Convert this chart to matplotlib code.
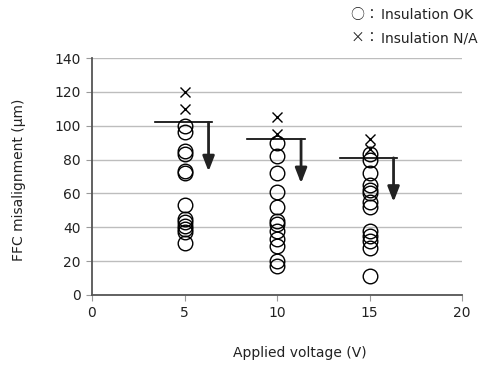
import matplotlib.pyplot as plt

# applied voltage groups
voltages = [5, 10, 15]

# misalignment values (um)
ok_5 = [100, 96, 85, 83, 73, 72, 53, 45, 43, 41, 39, 37, 31]
ok_10 = [90, 82, 72, 61, 52, 44, 42, 38, 33, 29, 20, 17]
ok_15 = [83, 80, 72, 65, 62, 60, 55, 52, 38, 35, 32, 28, 11]
na_5 = [120, 110]
na_10 = [105, 95]
na_15 = [92, 86]

# threshold level and arrow end for each group
limits = [102, 92, 81]
arrow_ends = [73, 66, 55]

ok_values = [ok_5, ok_10, ok_15]
na_values = [na_5, na_10, na_15]

legend_symbols = ['\u25cb', '\u00d7']
legend_labels = ['Insulation OK', 'Insulation N/A']

plt.rcParams['font.family'] = ['DejaVu Sans', 'Noto Sans CJK JP']

W, H = 480, 369
fig = plt.figure(figsize=(W / 100, H / 100), dpi=100)
ax = fig.add_axes([92 / W, 74 / H, 370 / W, 237 / H])

for v, oks, nas in zip(voltages, ok_values, na_values):
    ax.plot([v] * len(oks), oks, linestyle='none', marker='o', markersize=10.5,
            markerfacecolor='none', markeredgecolor='black', markeredgewidth=1.0,
            zorder=3)
    ax.plot([v] * len(nas), nas, linestyle='none', marker='x', markersize=7.5,
            color='black', markeredgewidth=1.0, zorder=3)

# threshold lines with downward arrows
for v, lim, end in zip(voltages, limits, arrow_ends):
    ax.plot([v - 1.6, v + 1.5], [lim, lim], color='black', lw=1.2, zorder=4)
    ax.annotate('', xy=(v + 1.3, end), xytext=(v + 1.3, lim),
                arrowprops=dict(arrowstyle='-|>,head_width=0.35,head_length=0.9',
                                color='#222222', lw=2.0, shrinkA=0, shrinkB=0),
                zorder=4)

ax.set_xlim(0, 20)
ax.set_ylim(0, 140)
ax.set_xticks([0, 5, 10, 15, 20])
ax.set_yticks(range(0, 141, 20))
ax.grid(axis='y', color='#bdbdbd', lw=1.0)
ax.set_axisbelow(True)

for s in ['top', 'right']:
    ax.spines[s].set_visible(False)
for s in ['left', 'bottom']:
    ax.spines[s].set_color('#555555')
    ax.spines[s].set_linewidth(1.3)

ax.tick_params(axis='both', direction='out', length=4, color='#999999',
               labelsize=10, labelcolor='#222222', pad=4)

ax.set_xlabel('Applied voltage (V)', fontsize=10, color='#222222')
ax.set_ylabel('FFC misalignment (\u03bcm)', fontsize=10, color='#222222')
ax.xaxis.set_label_coords((300 - 92) / 370, (295 - 346) / 237)
ax.yaxis.set_label_coords((26 - 92) / 370, (295 - 180) / 237)

# legend drawn as text: symbol, full-width colon, label
for i, (sym, lab) in enumerate(zip(legend_symbols, legend_labels)):
    y = 1 - (15 + 23 * i) / H
    fig.text(357 / W, y, sym, family='Noto Sans CJK JP', fontsize=10,
             color='#222222', ha='center', va='center')
    fig.text(371 / W, y, '\uff1a', family='Noto Sans CJK JP', fontsize=10,
             color='#222222', ha='center', va='center')
    fig.text(381 / W, y, lab, fontsize=10, color='#222222', ha='left', va='center')

fig.savefig('out.png', dpi=100)
